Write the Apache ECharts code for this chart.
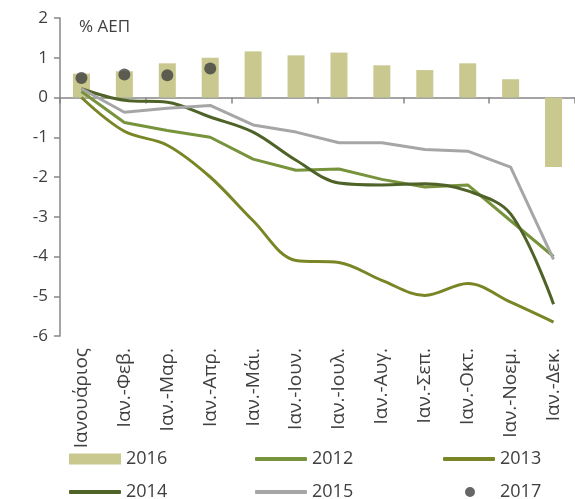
<!DOCTYPE html>
<html>
<head>
<meta charset="utf-8">
<script src="https://cdn.jsdelivr.net/npm/echarts@6/dist/echarts.min.js"></script>
<style>
  html, body { margin: 0; padding: 0; background: #fff; }
  #chart { width: 575px; height: 499px; }
</style>
</head>
<body>
<div id="chart"></div>
<script>
var months = ['Ιανουάριος', 'Ιαν.-Φεβ.', 'Ιαν.-Μαρ.', 'Ιαν.-Απρ.', 'Ιαν.-Μάι.', 'Ιαν.-Ιουν.',
  'Ιαν.-Ιουλ.', 'Ιαν.-Αυγ.', 'Ιαν.-Σεπ.', 'Ιαν.-Οκτ.', 'Ιαν.-Νοεμ.', 'Ιαν.-Δεκ.'];
var y2016 = [0.6, 0.66, 0.86, 1.0, 1.16, 1.06, 1.13, 0.81, 0.69, 0.86, 0.46, -1.75];
var y2012 = [0.15, -0.63, -0.83, -1.0, -1.55, -1.83, -1.8, -2.06, -2.25, -2.2, -3.1, -4.0];
var y2013 = [0.0, -0.85, -1.2, -2.0, -3.1, -4.1, -4.15, -4.6, -4.98, -4.68, -5.15, -5.65];
var y2014 = [0.22, -0.07, -0.12, -0.49, -0.87, -1.58, -2.15, -2.2, -2.17, -2.35, -2.93, -5.2];
var y2015 = [0.22, -0.37, -0.27, -0.2, -0.69, -0.87, -1.14, -1.14, -1.31, -1.35, -1.75, -4.07];
var y2017 = [0.49, 0.58, 0.56, 0.73];

var font = 'Open Sans';
var txt = '#404040';

function lineSeries(name, data, color, smooth) {
  return {
    name: name, type: 'line', data: data, smooth: smooth,
    showSymbol: false, symbol: 'none',
    lineStyle: { color: color, width: 3 },
    itemStyle: { color: color },
    z: 3
  };
}

// one legend per entry so the 3x2 layout lines up with the reference
function legendAt(name, left, top, opts) {
  return Object.assign({
    data: [name], left: left, top: top, padding: 0,
    icon: 'roundRect', itemWidth: 52, itemHeight: 4, selectedMode: false,
    textStyle: { fontFamily: font, fontSize: 18, color: txt, lineHeight: 20 }
  }, opts || {});
}

var chart = echarts.init(document.getElementById('chart'));
chart.setOption({
  animation: false,
  title: {
    text: '% ΑΕΠ', left: 74, top: 14,
    textStyle: { fontFamily: font, fontSize: 17, fontWeight: 'normal', color: txt }
  },
  grid: { left: 60, top: 18, width: 520, height: 318 },
  legend: [
    legendAt('2016', 69, 449, { icon: 'rect', itemHeight: 11 }),
    legendAt('2012', 255, 449),
    legendAt('2013', 443, 449),
    legendAt('2014', 69, 482),
    legendAt('2015', 255, 482),
    legendAt('2017', 465, 482, {
      icon: 'circle', itemWidth: 10, itemHeight: 10,
      textStyle: { fontFamily: font, fontSize: 18, color: txt, lineHeight: 20, padding: [0, 0, 0, 20] }
    })
  ],
  xAxis: [{
    type: 'category', data: months,
    axisLine: { onZero: true, lineStyle: { color: '#868686', width: 1.5 } },
    axisTick: { show: true, length: 6, lineStyle: { color: '#868686', width: 1.5 } },
    axisLabel: { show: false }
  }, {
    type: 'category', data: months, position: 'bottom',
    axisLine: { show: false, onZero: false }, axisTick: { show: false },
    axisLabel: { rotate: 90, margin: 12, fontFamily: font, fontSize: 19, color: txt }
  }],
  yAxis: {
    type: 'value', min: -6, max: 2, interval: 1,
    axisLine: { show: true, lineStyle: { color: '#868686', width: 1.5 } },
    axisTick: { show: true, length: 6, lineStyle: { color: '#868686', width: 1.5 } },
    splitLine: { show: false },
    axisLabel: { margin: 12, fontFamily: font, fontSize: 17, color: txt }
  },
  series: [
    { name: '2016', type: 'bar', data: y2016, barWidth: 17, itemStyle: { color: '#C9C88F' }, z: 2 },
    lineSeries('2012', y2012, '#77933C', false),
    lineSeries('2013', y2013, '#7A8526', 0.35),
    lineSeries('2014', y2014, '#4F6228', 0.35),
    lineSeries('2015', y2015, '#A6A6A6', false),
    { name: '2017', type: 'scatter', data: y2017, symbolSize: 12, itemStyle: { color: '#404040' }, z: 4 }
  ]
});
</script>
</body>
</html>
